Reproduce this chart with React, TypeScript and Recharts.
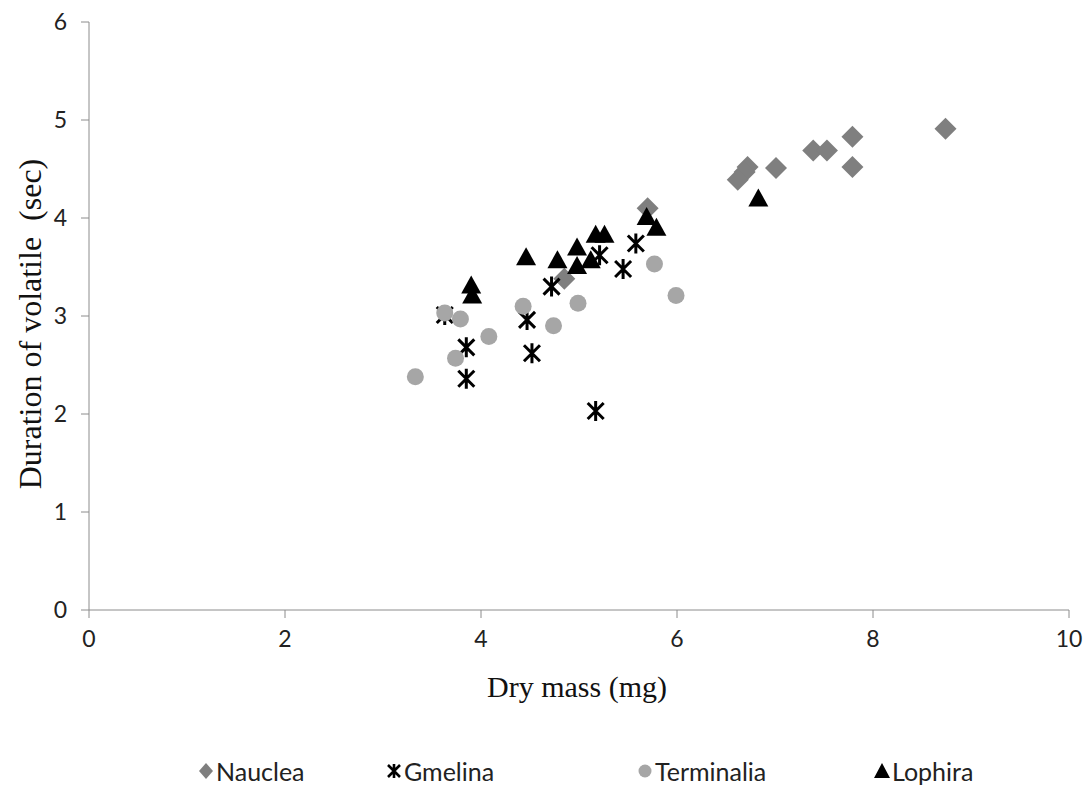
import { ScatterChart, Scatter, XAxis, YAxis, Label } from 'recharts'

// Nauclea (diamonds)
const naucleaX = [8.74, 7.79, 7.79, 7.39, 7.53, 7.01, 6.72, 6.69, 6.62, 5.7, 4.85]
const naucleaY = [4.91, 4.83, 4.52, 4.69, 4.69, 4.51, 4.52, 4.47, 4.39, 4.1, 3.38]

// Gmelina (asterisks)
const gmelinaX = [3.63, 3.85, 3.85, 4.47, 4.52, 4.72, 5.17, 5.21, 5.45, 5.58]
const gmelinaY = [3.01, 2.68, 2.36, 2.96, 2.62, 3.3, 2.03, 3.62, 3.48, 3.74]

// Terminalia (circles)
const terminaliaX = [3.33, 3.63, 3.79, 3.74, 4.08, 4.43, 4.74, 4.99, 5.77, 5.99]
const terminaliaY = [2.38, 3.03, 2.97, 2.57, 2.79, 3.1, 2.9, 3.13, 3.53, 3.21]

// Lophira (triangles)
const lophiraX = [3.9, 3.91, 4.46, 4.78, 4.98, 4.98, 5.12, 5.17, 5.26, 5.69, 5.79, 6.83]
const lophiraY = [3.31, 3.21, 3.6, 3.57, 3.7, 3.51, 3.57, 3.83, 3.83, 4.01, 3.9, 4.2]

const xTicks = [0, 2, 4, 6, 8, 10]
const yTicks = [0, 1, 2, 3, 4, 5, 6]

const zip = (xs: number[], ys: number[]) => xs.map((x, i) => ({ x, y: ys[i] }))

const AXIS = '#8c8c8c'
const TICK_FONT = { fontFamily: 'Lato, sans-serif', fontSize: 23, fill: '#222' }

const Diamond = ({ cx, cy }: any) => (
  <path d={`M${cx},${cy - 11} L${cx + 11},${cy} L${cx},${cy + 11} L${cx - 11},${cy} Z`} fill="#7f7f7f" />
)
const Star = ({ cx, cy }: any) => (
  <path
    d={`M${cx - 8},${cy - 8} L${cx + 8},${cy + 8} M${cx + 8},${cy - 8} L${cx - 8},${cy + 8} M${cx},${cy - 10} L${cx},${cy + 10}`}
    stroke="#000"
    strokeWidth={3}
    fill="none"
  />
)
const Dot = ({ cx, cy }: any) => <circle cx={cx} cy={cy} r={8.5} fill="#a6a6a6" />
const Tri = ({ cx, cy }: any) => (
  <path d={`M${cx},${cy - 10} L${cx + 10},${cy + 8} L${cx - 10},${cy + 8} Z`} fill="#000" />
)

const legendItems = [
  { name: 'Nauclea', left: 197 },
  { name: 'Gmelina', left: 385 },
  { name: 'Terminalia', left: 636 },
  { name: 'Lophira', left: 873 },
]

function LegendIcon({ name }: { name: string }) {
  return (
    <svg width={18} height={20} viewBox="0 0 18 20" style={{ marginRight: 1 }}>
      {name === 'Nauclea' && <path d="M9,2 L16,10 L9,18 L2,10 Z" fill="#7f7f7f" />}
      {name === 'Gmelina' && (
        <path d="M3,4 L15,16 M15,4 L3,16 M9,3 L9,17" stroke="#000" strokeWidth={2.6} fill="none" />
      )}
      {name === 'Terminalia' && <circle cx={9} cy={10} r={6.5} fill="#a6a6a6" />}
      {name === 'Lophira' && <path d="M9,2 L17,17 L1,17 Z" fill="#000" />}
    </svg>
  )
}

export default function App() {
  return (
    <div style={{ position: 'absolute', left: 0, top: 0, width: 1087, height: 789, background: '#fff' }}>
      <ScatterChart width={1087} height={789} margin={{ top: 22, right: 18, bottom: 79, left: 0 }}>
        <XAxis
          type="number"
          dataKey="x"
          domain={[0, 10]}
          ticks={xTicks}
          height={100}
          stroke={AXIS}
          tickSize={8}
          tickMargin={13}
          tick={TICK_FONT}
          tickLine={{ stroke: AXIS }}
        >
          <Label
            content={({ viewBox }: any) => (
              <text
                x={viewBox.x + viewBox.width / 2 - 2}
                y={viewBox.y + 87}
                textAnchor="middle"
                fontFamily="'Liberation Serif', serif"
                fontSize={30}
                fill="#111"
              >
                Dry mass (mg)
              </text>
            )}
          />
        </XAxis>
        <YAxis
          type="number"
          dataKey="y"
          domain={[0, 6]}
          ticks={yTicks}
          width={89}
          stroke={AXIS}
          tickSize={8}
          tickMargin={14}
          tick={TICK_FONT}
          tickLine={{ stroke: AXIS }}
        >
          <Label
            content={({ viewBox }: any) => {
              const cx = viewBox.x + 41
              const cy = viewBox.y + viewBox.height / 2 + 8
              return (
                <text
                  x={cx}
                  y={cy}
                  transform={`rotate(-90 ${cx} ${cy})`}
                  textAnchor="middle"
                  fontFamily="'Liberation Serif', serif"
                  fontSize={32}
                  fill="#111"
                  style={{ whiteSpace: 'pre' }}
                >
                  {'Duration of volatile  (sec)'}
                </text>
              )
            }}
          />
        </YAxis>
        <Scatter name="Nauclea" data={zip(naucleaX, naucleaY)} shape={Diamond} isAnimationActive={false} />
        <Scatter name="Gmelina" data={zip(gmelinaX, gmelinaY)} shape={Star} isAnimationActive={false} />
        <Scatter name="Terminalia" data={zip(terminaliaX, terminaliaY)} shape={Dot} isAnimationActive={false} />
        <Scatter name="Lophira" data={zip(lophiraX, lophiraY)} shape={Tri} isAnimationActive={false} />
      </ScatterChart>
      {legendItems.map((it) => (
        <div
          key={it.name}
          style={{
            position: 'absolute',
            left: it.left,
            top: 756,
            display: 'flex',
            alignItems: 'center',
            fontFamily: 'Lato, sans-serif',
            fontSize: 25,
            color: '#222',
          }}
        >
          <LegendIcon name={it.name} />
          {it.name}
        </div>
      ))}
    </div>
  )
}
